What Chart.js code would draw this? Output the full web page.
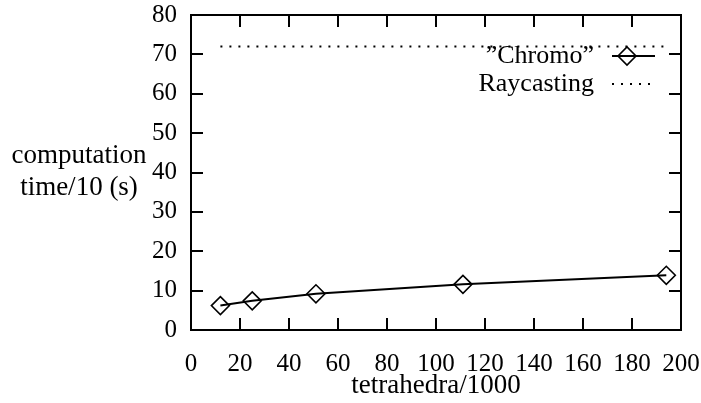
<!DOCTYPE html>
<html>
<head>
<meta charset="utf-8">
<script src="https://cdn.jsdelivr.net/npm/chart.js@4"></script>
<style>
  html, body { margin: 0; padding: 0; background: #fff; }
  #wrap { width: 701px; height: 403px; }
</style>
</head>
<body>
<div id="wrap"><canvas id="c" width="701" height="403"></canvas></div>
<script>
// values
const chromoX = [12, 25, 51, 111, 194];
const chromoY = [6.2, 7.4, 9.2, 11.6, 13.9];
const rayX = [12, 194];
const rayY = [72, 72];
const xTicks = [0, 20, 40, 60, 80, 100, 120, 140, 160, 180, 200];
const yTicks = [0, 10, 20, 30, 40, 50, 60, 70, 80];
const seriesNames = ['\u201DChromo\u201D', 'Raycasting'];
const yTitleLines = ['computation', 'time/10 (s)'];
const xTitle = 'tetrahedra/1000';

const FONT = "'Liberation Serif', 'Times New Roman', serif";

function pts(xs, ys) { return xs.map((x, i) => ({ x: x, y: ys[i] })); }

// frame, inward ticks, y title and the key, all drawn from the scales
const framePlugin = {
  id: 'frame',
  afterDraw(chart) {
    const ctx = chart.ctx;
    const a = chart.chartArea;
    const xs = chart.scales.x, ys = chart.scales.y;
    const tl = 12;
    ctx.save();
    ctx.strokeStyle = '#000';
    ctx.lineWidth = 2;
    ctx.beginPath();
    xTicks.forEach(v => {
      if (v === xs.min || v === xs.max) return;
      const px = Math.round(xs.getPixelForValue(v));
      ctx.moveTo(px, a.bottom); ctx.lineTo(px, a.bottom - tl);
      ctx.moveTo(px, a.top); ctx.lineTo(px, a.top + tl);
    });
    yTicks.forEach(v => {
      if (v === ys.min || v === ys.max) return;
      const py = Math.round(ys.getPixelForValue(v));
      ctx.moveTo(a.left, py); ctx.lineTo(a.left + tl, py);
      ctx.moveTo(a.right, py); ctx.lineTo(a.right - tl, py);
    });
    ctx.stroke();
    ctx.strokeRect(a.left, a.top, a.right - a.left, a.bottom - a.top);

    // y title, horizontal, two lines
    ctx.fillStyle = '#000';
    ctx.font = '27px ' + FONT;
    ctx.textAlign = 'center';
    ctx.textBaseline = 'middle';
    ctx.fillText(yTitleLines[0], 79, 156);
    ctx.fillText(yTitleLines[1], 79, 188);

    // key, top right inside the frame
    ctx.font = '26px ' + FONT;
    ctx.textAlign = 'right';
    chart.data.datasets.forEach((ds, i) => {
      const ry = 56 + i * 28;
      ctx.fillText(ds.label, 594, ry);
      ctx.save();
      ctx.strokeStyle = ds.borderColor;
      ctx.lineWidth = ds.borderWidth;
      ctx.setLineDash(ds.borderDash || []);
      ctx.beginPath();
      ctx.moveTo(612, ry); ctx.lineTo(655, ry);
      ctx.stroke();
      ctx.restore();
      if (ds.pointRadius > 0) {
        const r = ds.pointRadius;
        const cx = 627;
        ctx.lineWidth = ds.pointBorderWidth;
        ctx.beginPath();
        ctx.moveTo(cx - r, ry); ctx.lineTo(cx, ry - r);
        ctx.lineTo(cx + r, ry); ctx.lineTo(cx, ry + r);
        ctx.closePath();
        ctx.stroke();
      }
    });
    ctx.restore();
  }
};

new Chart(document.getElementById('c'), {
  type: 'scatter',
  data: {
    datasets: [
      {
        label: seriesNames[0],
        data: pts(chromoX, chromoY),
        showLine: true,
        borderColor: '#000',
        borderWidth: 2,
        backgroundColor: 'rgba(0,0,0,0)',
        pointStyle: 'rectRot',
        pointRadius: 9,
        pointBorderWidth: 1.6,
        pointBorderColor: '#000',
        pointBackgroundColor: 'rgba(0,0,0,0)'
      },
      {
        label: seriesNames[1],
        data: pts(rayX, rayY),
        showLine: true,
        borderColor: '#000',
        borderWidth: 2,
        borderDash: [2, 7],
        pointRadius: 0
      }
    ]
  },
  options: {
    responsive: false,
    animation: false,
    layout: { padding: { top: 15, right: 20, left: 0, bottom: 0 } },
    plugins: { legend: { display: false }, tooltip: { enabled: false } },
    scales: {
      x: {
        type: 'linear',
        min: 0, max: 200,
        afterBuildTicks: s => { s.ticks = xTicks.map(v => ({ value: v })); },
        afterFit: s => { s.height = 73; s.paddingLeft = 0; s.paddingRight = 0; },
        grid: { display: false, tickLength: 0 },
        border: { display: false },
        ticks: { color: '#000', padding: 19, maxRotation: 0, autoSkip: false, font: { family: FONT, size: 25 } },
        title: { display: true, text: xTitle, color: '#000', padding: { top: -8, bottom: 1 }, font: { family: FONT, size: 27 } }
      },
      y: {
        type: 'linear',
        min: 0, max: 80,
        afterBuildTicks: s => { s.ticks = yTicks.map(v => ({ value: v })); },
        afterFit: s => { s.width = 191; s.paddingTop = 0; s.paddingBottom = 0; },
        grid: { display: false, tickLength: 0 },
        border: { display: false },
        ticks: { color: '#000', padding: 14, autoSkip: false, font: { family: FONT, size: 25 } }
      }
    }
  },
  plugins: [framePlugin]
});
</script>
</body>
</html>
